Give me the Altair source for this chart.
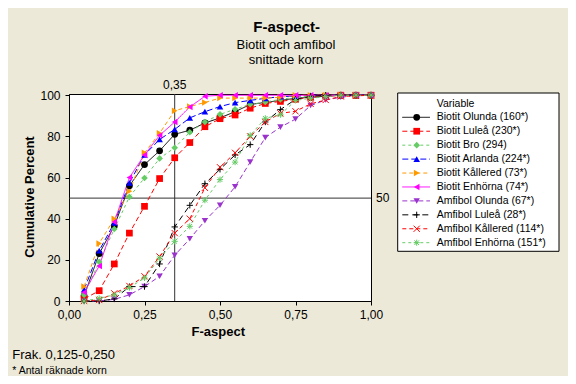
import altair as alt
import pandas as pd

# ---------------- data ----------------
F_ASPECT = [0.05, 0.10, 0.15, 0.20, 0.25, 0.30, 0.35, 0.40, 0.45, 0.50,
            0.55, 0.60, 0.65, 0.70, 0.75, 0.80, 0.85, 0.90, 0.95, 1.00]

SERIES = ["Biotit Olunda", "Biotit Luleå", "Biotit Bro", "Biotit Arlanda",
          "Biotit Kållered", "Biotit Enhörna", "Amfibol Olunda", "Amfibol Luleå",
          "Amfibol Kållered", "Amfibol Enhörna"]

LABELS = ["Biotit Olunda  (160*)", "Biotit Luleå (230*)", "Biotit Bro (294)",
          "Biotit Arlanda (224*)", "Biotit Kållered (73*)", "Biotit Enhörna (74*)",
          "Amfibol Olunda (67*)", "Amfibol Luleå (28*)", "Amfibol Kållered (114*)",
          "Amfibol Enhörna (151*)"]

biotit_olunda = [2.5, 23, 36.5, 56, 66.3, 73, 81, 83, 86.5, 89, 92, 95.5, 96.5, 97.5, 98.5, 99, 99.5, 100, 100, 100]
biotit_lulea = [1, 5, 18, 33, 46, 59.5, 69.6, 77, 84.7, 88.6, 90.4, 93.7, 96, 97, 98, 99, 99.5, 100, 100, 100]
biotit_bro = [3, 19, 35, 50.6, 59.8, 69.3, 74.5, 82, 87, 90.7, 93.2, 95.6, 96.7, 98, 99, 99.5, 100, 100, 100, 100]
biotit_arlanda = [5.5, 24.5, 38, 57.4, 71, 78.5, 83.4, 89, 92, 94.5, 96.4, 97.5, 98.5, 99.3, 99.6, 100, 100, 100, 100, 100]
biotit_kallered = [7, 28, 40, 53.3, 72, 81.5, 92.5, 94.5, 96.5, 98.6, 98.6, 98.6, 98.6, 99, 100, 100, 100, 100, 100, 100]
biotit_enhorna = [4.2, 17, 38.4, 60, 71, 80.5, 87, 94.3, 99.5, 100, 100, 100, 100, 100, 100, 100, 100, 100, 100, 100]
amfibol_olunda = [0, 0, 0.8, 3, 7, 12, 22.2, 30.2, 39, 46.5, 55.5, 67.5, 79.4, 84.5, 88.4, 95, 97.7, 99, 100, 100]
amfibol_lulea = [0, 0, 1, 7, 7, 18, 36, 46.5, 57, 64, 71, 76, 87, 93, 98, 99.5, 100, 100, 100, 100]
amfibol_kallered = [0, 0.5, 3.7, 7.3, 12, 21.6, 33, 40, 55, 65, 72, 80, 87, 91.2, 92.2, 95.8, 97.7, 99.4, 99.7, 100]
amfibol_enhorna = [0, 1.3, 3, 6.5, 11.2, 20.8, 29, 36.3, 49, 59, 67.5, 80.5, 88.8, 90.5, 97.5, 98.5, 99.3, 100, 100, 100]

VALUES = [biotit_olunda, biotit_lulea, biotit_bro, biotit_arlanda, biotit_kallered,
          biotit_enhorna, amfibol_olunda, amfibol_lulea, amfibol_kallered, amfibol_enhorna]

REF_X = [0.35]
REF_Y = [50]
X_TICKS = [0, 0.25, 0.5, 0.75, 1.0]
Y_TICKS = [0, 20, 40, 60, 80, 100]

TITLE = "F-aspect-"
SUBTITLE = ["Biotit och amfibol", "snittade korn"]
X_TITLE = "F-aspect"
Y_TITLE = "Cumulative Percent"
NOTES = ["Frak. 0,125-0,250", "* Antal räknade korn"]
LEGEND_TITLE = "Variable"

# ---------------- styles ----------------
COLORS = ["#000000", "#FF0000", "#66CC66", "#0000FF", "#FF9900", "#FF00FF",
          "#9933CC", "#000000", "#FF0000", "#66CC66"]
PLUS = "M-1,0L1,0M0,-1L0,1"
CROSS = "M-1,-1L1,1M-1,1L1,-1"
STAR = "M-1,0L1,0M0,-1L0,1M-0.75,-0.75L0.75,0.75M-0.75,0.75L0.75,-0.75"
SHAPES = ["circle", "square", "diamond", "triangle-up", "triangle-right",
          "triangle-left", "triangle-down", PLUS, CROSS, STAR]
DASHES = [[1, 0], [5, 3], [3, 3], [6, 3], [4, 3], [1, 0], [5, 3], [6, 4], [4, 3], [3, 3]]
SIZES = [46, 38, 50, 64, 64, 64, 76, 44, 36, 44]
STROKED = {"Amfibol Luleå", "Amfibol Kållered", "Amfibol Enhörna"}

FONT = "Liberation Sans"
W, H = 302, 207

rows = []
for name, vals in zip(SERIES, VALUES):
    for xv, yv in zip(F_ASPECT, vals):
        rows.append({"Variable": name, "F": xv, "Pct": yv, "stroked": name in STROKED})
df = pd.DataFrame(rows)

color_s = alt.Scale(domain=SERIES, range=COLORS)
shape_s = alt.Scale(domain=SERIES, range=SHAPES)
dash_s = alt.Scale(domain=SERIES, range=DASHES)
size_s = alt.Scale(domain=SERIES, range=SIZES)

col = alt.Color("Variable:N", scale=color_s, legend=None)
shp = alt.Shape("Variable:N", scale=shape_s, legend=None)
dsh = alt.StrokeDash("Variable:N", scale=dash_s, legend=None)
siz = alt.Size("Variable:N", scale=size_s, legend=None)

x_enc = alt.X("F:Q", scale=alt.Scale(domain=[0, 1], nice=False, zero=False),
              axis=alt.Axis(values=X_TICKS, title=None, grid=False,
                            labelExpr="replace(format(datum.value, '.2f'), '.', ',')",
                            labelFlush=False, labelPadding=4, tickSize=4))
y_enc = alt.Y("Pct:Q", scale=alt.Scale(domain=[0, 100.6], nice=False, zero=False),
              axis=alt.Axis(values=Y_TICKS, title=None, grid=False,
                            labelFlush=False, labelPadding=5, tickSize=4))

ref_v = alt.Chart(pd.DataFrame({"F": REF_X})).mark_rule(color="#333333", strokeWidth=1).encode(
    x=x_enc, y=alt.value(0), y2=alt.value(H))
ref_h = alt.Chart(pd.DataFrame({"Pct": REF_Y})).mark_rule(color="#333333", strokeWidth=1).encode(
    y=y_enc, x=alt.value(0), x2=alt.value(W))
ref_v_lab = alt.Chart(pd.DataFrame({"F": REF_X, "t": ["0,35"]})).mark_text(
    font=FONT, fontSize=12, baseline="middle", align="center", color="black").encode(
    x=x_enc, y=alt.value(-9), text="t:N")
ref_h_lab = alt.Chart(pd.DataFrame({"Pct": REF_Y, "t": ["50"]})).mark_text(
    font=FONT, fontSize=12, baseline="middle", align="left", color="black").encode(
    y=y_enc, x=alt.value(307), text="t:N")

base = alt.Chart(df)
lines = base.mark_line(strokeWidth=1).encode(x=x_enc, y=y_enc, color=col, strokeDash=dsh,
                                            detail="Variable:N")
pts_f = base.transform_filter("!datum.stroked").mark_point(filled=True, opacity=1).encode(
    x=x_enc, y=y_enc, color=col, shape=shp, size=siz)
pts_s = base.transform_filter("datum.stroked").mark_point(filled=False, opacity=1, strokeWidth=1).encode(
    x=x_enc, y=y_enc, color=col, shape=shp, size=siz)

def txt(t, x, y, size, weight="normal", align="center", angle=0):
    return alt.Chart(pd.DataFrame({"t": [t]})).mark_text(
        font=FONT, fontSize=size, fontWeight=weight, align=align, baseline="middle",
        angle=angle, color="black").encode(x=alt.value(x), y=alt.value(y), text="t:N")

texts = [
    txt(TITLE, 217.7, -66.7, 15, "bold"),
    txt(SUBTITLE[0], 217, -49.3, 13),
    txt(SUBTITLE[1], 217, -34, 13),
    txt(X_TITLE, 149.3, 237.5, 13, "bold"),
    txt(Y_TITLE, -39, 103, 13, "bold", angle=270),
    txt(NOTES[0], -56.7, 261, 13, align="left"),
    txt(NOTES[1], -56.7, 276.5, 10.5, align="left"),
]

main = alt.layer(ref_v, ref_h, lines, pts_f, pts_s, ref_v_lab, ref_h_lab, *texts)

# ---------------- legend ----------------
leg_df = pd.DataFrame({"Variable": SERIES, "label": LABELS, "stroked": [s in STROKED for s in SERIES]})
ly = alt.Y("Variable:N", scale=alt.Scale(type="point", domain=SERIES, range=[23.3, 148.7], padding=0),
           axis=None)
leg_box = alt.Chart(pd.DataFrame({"a": [0]})).mark_rect(fill="white", stroke="black", strokeWidth=1).encode(
    x=alt.value(328.7), x2=alt.value(490), y=alt.value(-1), y2=alt.value(157.3))
leg_title = txt(LEGEND_TITLE, 367.7, 9.7, 10.5, align="left")
leg_base = alt.Chart(leg_df)
leg_lines = leg_base.mark_rule(strokeWidth=1).encode(
    x=alt.value(333.3), x2=alt.value(361), y=ly, color=col, strokeDash=dsh)
leg_pf = leg_base.transform_filter("!datum.stroked").mark_point(filled=True, opacity=1).encode(
    x=alt.value(347.7), y=ly, color=col, shape=shp, size=siz)
leg_ps = leg_base.transform_filter("datum.stroked").mark_point(filled=False, opacity=1, strokeWidth=1).encode(
    x=alt.value(347.7), y=ly, color=col, shape=shp, size=siz)
leg_text = leg_base.mark_text(font=FONT, fontSize=10.5, align="left", baseline="middle", color="black").encode(
    x=alt.value(367.7), y=ly, text="label:N")
legend = alt.layer(leg_box, leg_title, leg_lines, leg_pf, leg_ps, leg_text)

chart = alt.layer(main, legend).resolve_scale(y="independent").properties(
    width=W, height=H,
    autosize=alt.AutoSizeParams(type="none"),
    padding={"left": 61, "top": 86, "right": 197, "bottom": 75},
    background="#ECE9D8",
).configure_view(stroke="black", strokeWidth=1, fill="white").configure_axis(
    labelFont=FONT, labelFontSize=12, labelColor="black", domainColor="black",
    tickColor="black", domainWidth=1, tickWidth=1)

chart.save("out.html", embed_options={"renderer": "svg", "actions": False})
